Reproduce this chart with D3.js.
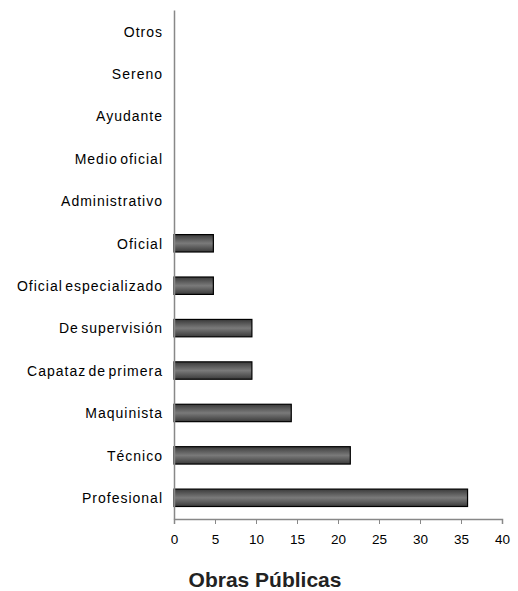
<!DOCTYPE html>
<html>
<head>
<meta charset="utf-8">
<script src="https://cdn.jsdelivr.net/npm/d3@7"></script>
<style>
	body { margin: 0; background: #fff; }
	text { font-family: "Liberation Sans", Arial, sans-serif; }
</style>
</head>
<body>
<script>
let width = 518;
let height = 591;

// categories top to bottom
let categories = ['Otros', 'Sereno', 'Ayudante', 'Medio oficial', 'Administrativo', 'Oficial',
	'Oficial especializado', 'De supervisión', 'Capataz de primera', 'Maquinista', 'Técnico', 'Profesional'];
let values = [0, 0, 0, 0, 0, 4.8, 4.8, 9.5, 9.5, 14.3, 21.5, 35.8];
let xTicks = [0, 5, 10, 15, 20, 25, 30, 35, 40];
let title = 'Obras Públicas';

let margin = { top: 10, right: 16, bottom: 72, left: 174 };

let svg = d3.select('body').append('svg')
	.attr('width', width)
	.attr('height', height);

let defs = svg.append('defs');
let grad = defs.append('linearGradient')
	.attr('id', 'barfill')
	.attr('x1', 0).attr('y1', 0).attr('x2', 0).attr('y2', 1);
grad.append('stop').attr('offset', '0%').attr('stop-color', '#3a3a3a');
grad.append('stop').attr('offset', '50%').attr('stop-color', '#7a7a7a');
grad.append('stop').attr('offset', '100%').attr('stop-color', '#3a3a3a');

let x = d3.scaleLinear()
	.domain([0, 40])
	.range([margin.left, width - margin.right]);

let y = d3.scaleBand()
	.domain(categories)
	.range([margin.top, height - margin.bottom])
	.paddingInner(0.59)
	.paddingOuter(0.295);

let canvas = svg.append('g');

canvas.selectAll('.bar')
	.data(categories)
	.enter().append('rect')
	.attr('class', 'bar')
	.attr('x', x(0))
	.attr('y', d => y(d))
	.attr('width', (d, i) => x(values[i]) - x(0))
	.attr('height', y.bandwidth())
	.style('fill', 'url(#barfill)')
	.style('stroke', '#000')
	.style('stroke-width', 1.2)
	.style('display', (d, i) => values[i] > 0 ? null : 'none');

// x axis
let xAxis = canvas.append('g')
	.attr('transform', 'translate(0,' + (height - margin.bottom) + ')')
	.call(d3.axisBottom(x).tickValues(xTicks).tickSize(5).tickPadding(10));
xAxis.select('.domain').style('stroke', '#888').style('stroke-width', 1.5);
xAxis.selectAll('.tick line').style('stroke', '#888');
xAxis.selectAll('.tick text')
	.style('font-size', '13.5px')
	.style('fill', '#000');

// y axis
let yAxis = canvas.append('g')
	.attr('transform', 'translate(' + margin.left + ',0)')
	.call(d3.axisLeft(y).tickSize(0).tickPadding(11));
yAxis.select('.domain').style('stroke', '#888').style('stroke-width', 1.5);
yAxis.selectAll('.tick text')
	.attr('dy', '0.38em')
	.style('font-size', '14px')
	.style('letter-spacing', '1px')
	.style('word-spacing', '-2.5px')
	.style('fill', '#000');

svg.append('text')
	.attr('x', 265)
	.attr('y', 587)
	.attr('text-anchor', 'middle')
	.style('font-size', '21px')
	.style('font-weight', 'bold')
	.style('fill', '#222')
	.text(title);
</script>
</body>
</html>
